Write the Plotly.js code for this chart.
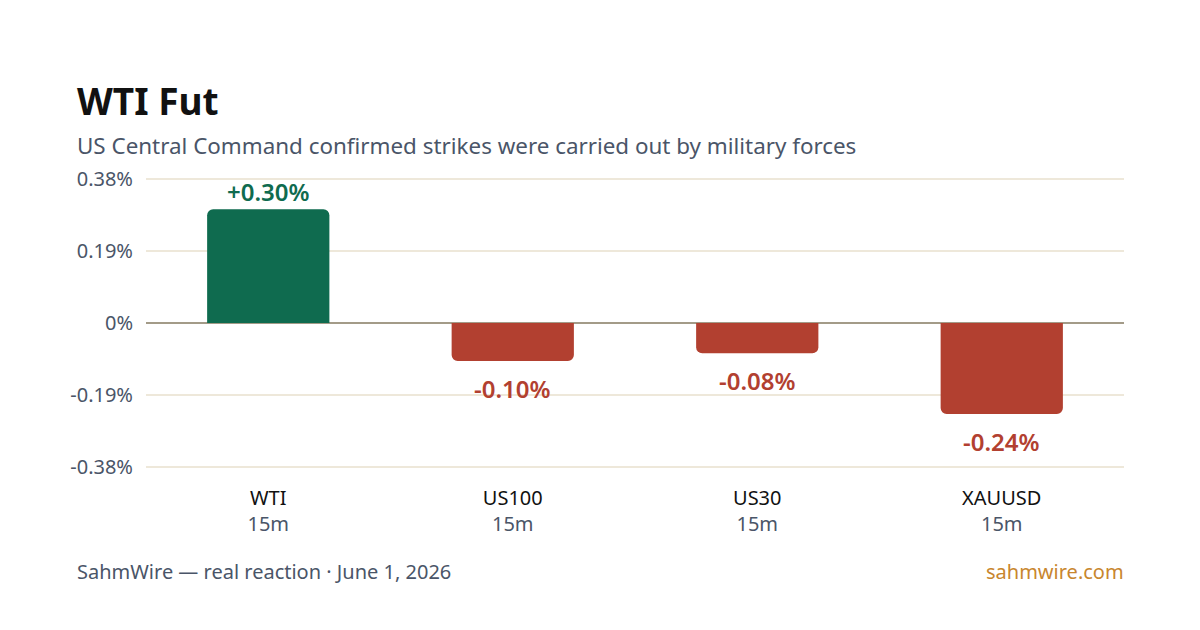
<!DOCTYPE html>
<html><head><meta charset="utf-8">
<script src="https://cdn.plot.ly/plotly-3.0.1.min.js"></script>
<style>html,body{margin:0;padding:0;background:#fff;}#chart{width:1200px;height:630px;}</style>
</head><body><div id="chart"></div>
<script>
const symbols = ["WTI", "US100", "US30", "XAUUSD"];
const timeframes = ["15m", "15m", "15m", "15m"];
const changes = [0.30, -0.10, -0.08, -0.24];
const tickVals = [0.38, 0.19, 0, -0.19, -0.38];
const tickLabels = ["0.38%", "0.19%", "0%", "-0.19%", "-0.38%"];

const green = "#0f6b4f", red = "#b24030";
const FONT = "Noto Sans, Open Sans, sans-serif";
const colors = changes.map(v => v >= 0 ? green : red);
const labels = changes.map(v => (v > 0 ? "+" : "") + v.toFixed(2) + "%");

const trace = {
  type: "bar", x: symbols, y: changes,
  marker: {color: colors, cornerradius: 6},
  width: 0.5, hoverinfo: "skip"
};

const valueAnns = symbols.map((s, i) => ({
  x: s, y: changes[i], xref: "x", yref: "y",
  text: labels[i], showarrow: false,
  yanchor: changes[i] >= 0 ? "bottom" : "top",
  yshift: changes[i] >= 0 ? -1 : -9,
  font: {family: FONT, size: 24, color: colors[i], weight: 600}
}));

const layout = {
  width: 1200, height: 630,
  paper_bgcolor: "#fff", plot_bgcolor: "#fff",
  margin: {l: 146, r: 76, t: 177, b: 161},
  showlegend: false,
  font: {family: FONT},
  xaxis: {
    tickvals: symbols,
    ticktext: symbols.map((s, i) => s + "<br><span style='color:#4a5568'>" + timeframes[i] + "</span>"),
    tickfont: {size: 20, color: "#111"}, showgrid: false, zeroline: false,
    showline: false, ticks: "", ticklen: 0, ticklabelstandoff: 15, fixedrange: true
  },
  yaxis: {
    range: [-0.385, 0.385], tickvals: tickVals, ticktext: tickLabels,
    tickfont: {size: 20, color: "#4a5568"}, gridcolor: "#eee8da", gridwidth: 1.5,
    zeroline: true, zerolinecolor: "#a39b88", zerolinewidth: 2,
    showline: false, ticks: "", ticklabelstandoff: 12, fixedrange: true
  },
  annotations: [
    {xref: "paper", yref: "paper", x: -0.0725, y: 1, xanchor: "left", yanchor: "bottom",
     text: "<b>WTI Fut</b>", showarrow: false, yshift: 49,
     font: {family: FONT, size: 37, color: "#111"}},
    {xref: "paper", yref: "paper", x: -0.0725, y: 1, xanchor: "left", yanchor: "bottom",
     text: "US Central Command confirmed strikes were carried out by military forces", showarrow: false, yshift: 14,
     font: {family: FONT, size: 22.4, color: "#4a5568"}},
    {xref: "paper", yref: "paper", x: -0.0725, y: 0, xanchor: "left", yanchor: "middle",
     text: "SahmWire — real reaction · June 1, 2026", showarrow: false, yshift: -102,
     font: {family: FONT, size: 20, color: "#4a5568"}},
    {xref: "paper", yref: "paper", x: 1.002, y: 0, xanchor: "right", yanchor: "middle",
     text: "sahmwire.com", showarrow: false, yshift: -102,
     font: {family: FONT, size: 20, color: "#c8862e"}}
  ].concat(valueAnns)
};

Plotly.newPlot("chart", [trace], layout, {staticPlot: true, displayModeBar: false});
</script></body></html>
